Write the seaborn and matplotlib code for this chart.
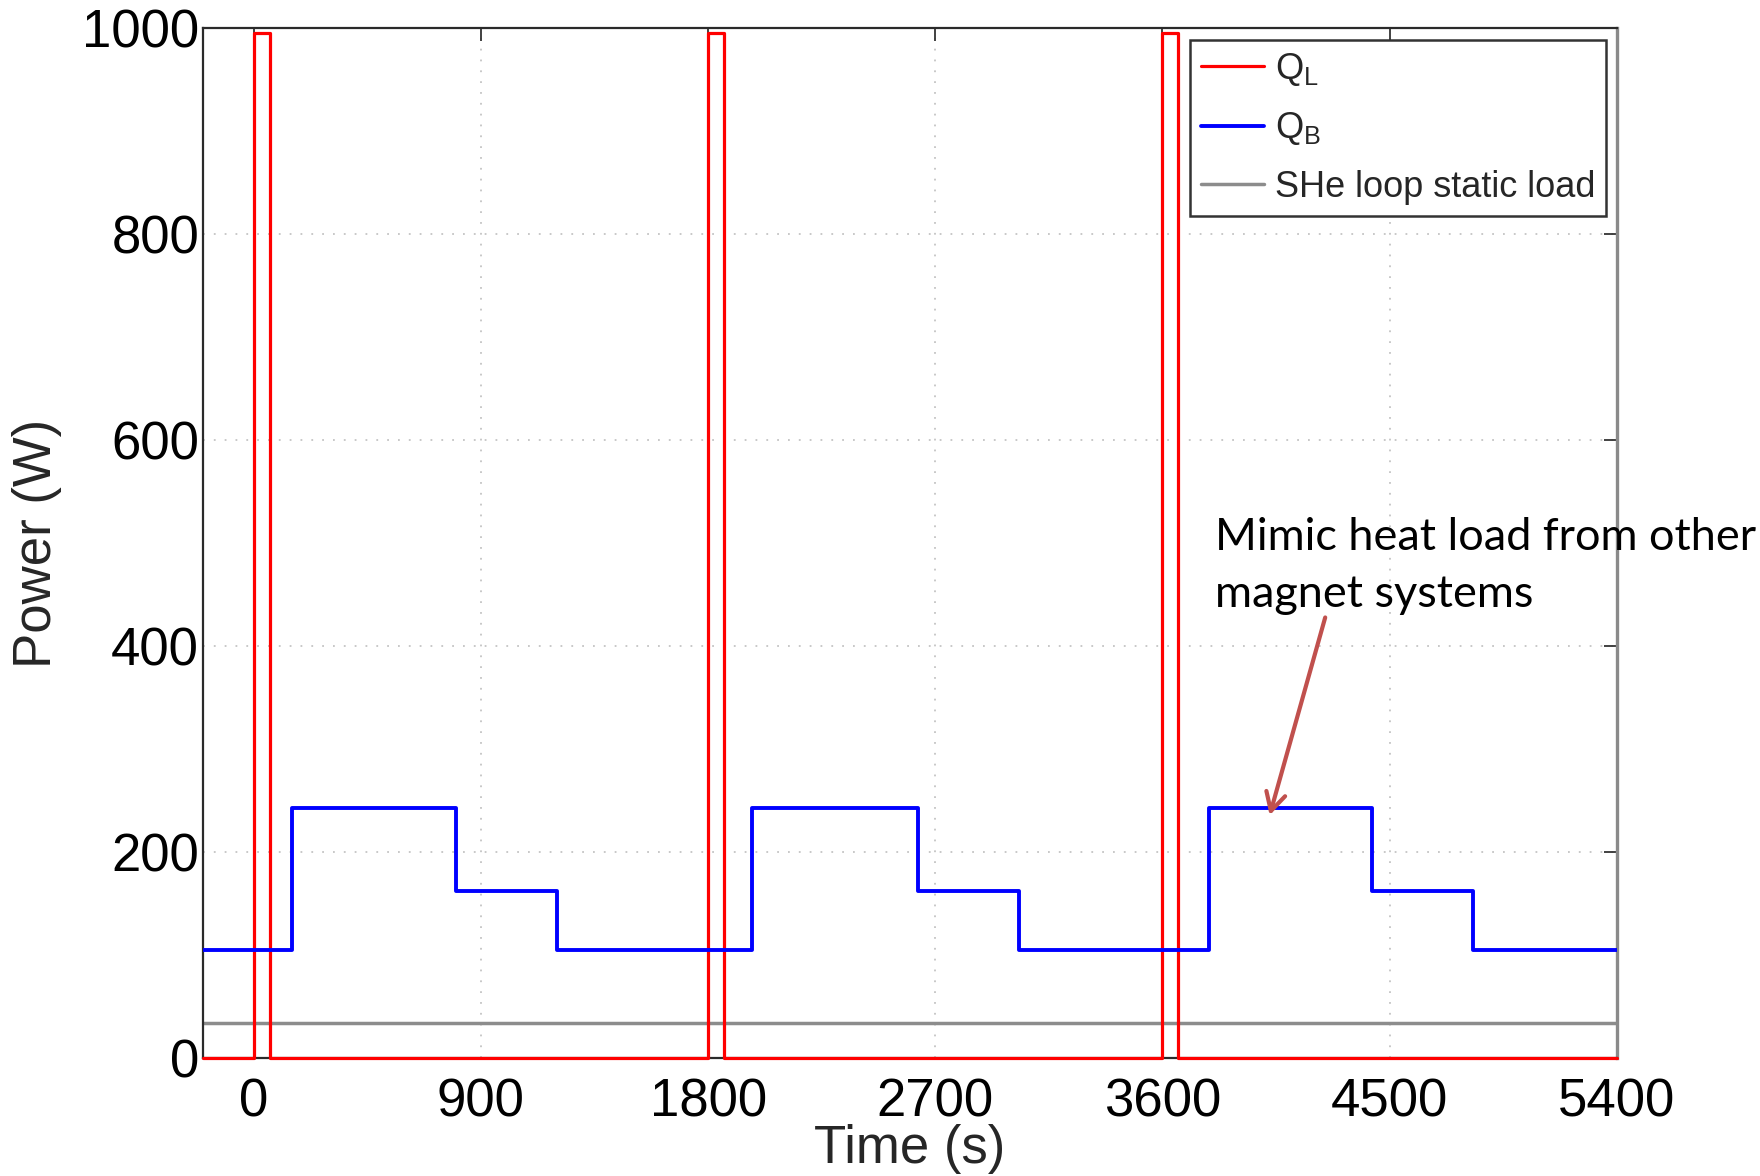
import matplotlib
matplotlib.use("Agg")
import matplotlib.pyplot as plt
import seaborn as sns
import numpy as np

# Heat load schedule over three 1800 s cycles (step changes, value holds until next time)
time_ql = [-200, 0, 63, 1800, 1863, 3600, 3663, 5400]
power_ql = [0, 995, 0, 995, 0, 995, 0, 0]

time_qb = [-200, 153, 802, 1201, 1975, 2632, 3033, 3783, 4430, 4830, 5400]
power_qb = [105, 243, 162, 105, 243, 162, 105, 243, 162, 105, 105]

time_static = [-200, 5400]
power_static = [34, 34]

x_ticks = [0, 900, 1800, 2700, 3600, 4500, 5400]
y_ticks = [0, 200, 400, 600, 800, 1000]

series_labels = [r"Q$_\mathregular{L}$", r"Q$_\mathregular{B}$", "SHe loop static load"]
note_text = "Mimic heat load from other\nmagnet systems"

sns.set_style("white")
plt.rcParams["font.family"] = ["Liberation Sans", "DejaVu Sans"]
plt.rcParams["mathtext.fontset"] = "custom"
plt.rcParams["mathtext.rm"] = "Liberation Sans"
plt.rcParams["mathtext.it"] = "Liberation Sans"

fig = plt.figure(figsize=(17.6, 11.76), dpi=100)
ax = fig.add_axes([0.1155, 0.1001, 0.8031, 0.8758])

common = dict(ax=ax, drawstyle="steps-post", sort=False, estimator=None)
sns.lineplot(x=time_ql, y=power_ql, color="#ff0000", linewidth=2.3,
             label=series_labels[0], zorder=3, clip_on=False, **common)
sns.lineplot(x=time_qb, y=power_qb, color="#0000ff", linewidth=2.8,
             label=series_labels[1], zorder=4, **common)
sns.lineplot(x=time_static, y=power_static, color="#8c8c8c", linewidth=2.5,
             label=series_labels[2], zorder=2, **common)

ax.set_xlim(-200, 5400)
ax.set_ylim(0, 1000)
ax.set_xticks(x_ticks)
ax.set_yticks(y_ticks)
ax.set_xticklabels([str(v) for v in x_ticks])
ax.set_yticklabels([str(v) for v in y_ticks])

ax.grid(True, color="#c4c4c4", linestyle=(0, (1, 5)), linewidth=1.3, zorder=0)
ax.set_axisbelow(True)

ax.tick_params(axis="both", direction="in", length=9.5, width=1.3,
               color="#333333", labelsize=38, labelcolor="black",
               top=True, right=True)
ax.tick_params(axis="x", pad=14)
ax.tick_params(axis="y", pad=3)

for side in ["top", "left", "bottom"]:
    ax.spines[side].set_color("#2a2a2a")
    ax.spines[side].set_linewidth(1.6)
ax.spines["right"].set_color("#8a8a8a")
ax.spines["right"].set_linewidth(2.4)

ax.set_xlabel("Time (s)", fontsize=38, va="top")
ax.xaxis.set_label_coords(0.5, -0.064)
ax.set_ylabel("Power (W)", fontsize=38, va="center")
ax.yaxis.set_label_coords(-0.1177, 0.5)

leg = ax.legend(loc="upper right", bbox_to_anchor=(0.9924, 0.9886),
                borderaxespad=0, fontsize=26, frameon=True, fancybox=False,
                edgecolor="#333333", handlelength=1.75, handletextpad=0.3,
                labelspacing=0.62, borderpad=0.3)
leg.get_frame().set_linewidth(1.8)
leg.get_frame().set_alpha(1)
leg.set_zorder(6)

ax.text(3809, 526, note_text, fontsize=32.5, family=["Lato", "DejaVu Sans"],
        color="black", ha="left", va="top", linespacing=1.5,
        clip_on=False, zorder=7)
ax.annotate("", xy=(4025, 236), xytext=(4245, 428),
            arrowprops=dict(arrowstyle="->,head_length=0.65,head_width=0.35",
                            color="#c0504d", linewidth=3.0, mutation_scale=20,
                            shrinkA=0, shrinkB=0),
            annotation_clip=False, zorder=7)

fig.savefig("out.png", dpi=100, facecolor="white")
